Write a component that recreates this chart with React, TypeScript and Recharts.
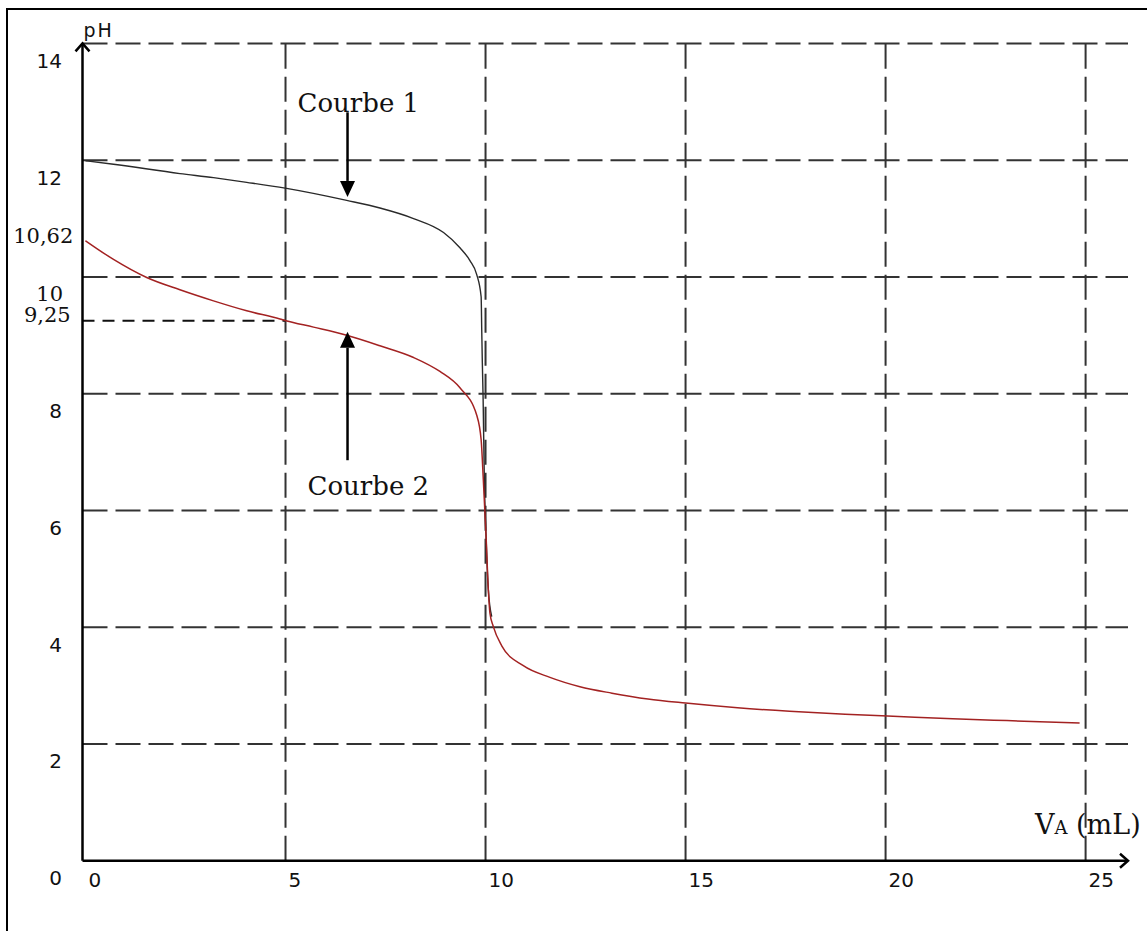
import React from 'react'
import { LineChart, Line, XAxis, YAxis, ReferenceLine } from 'recharts'

// volumes (mL) and pH
const volume1 = [0, 0.7, 2.36, 3.2, 4.03, 4.99, 6.53, 7.36, 8.2, 8.95, 9.36, 9.61, 9.78, 9.89, 9.905, 9.92, 9.94, 9.97, 10.01, 10.07, 10.155]
const ph1 = [11.99, 11.93, 11.77, 11.7, 11.62, 11.52, 11.31, 11.18, 11.0, 10.76, 10.5, 10.28, 10.04, 9.66, 9.09, 8.53, 7.89, 6.52, 5.61, 4.64, 4.18]

const volume2 = [0, 0.7, 1.53, 2.36, 3.2, 4.03, 4.86, 5.01, 5.7, 6.53, 7.36, 8.2, 8.86, 9.36, 9.78, 9.89, 9.945, 10.01, 10.07, 10.11, 10.195, 10.405, 10.945, 11.61, 12.36, 13.16, 14.06, 15.0, 16.3, 17.6, 18.99, 20.05, 21.68, 23.03, 24.85]
const ph2 = [10.62, 10.3, 9.99, 9.78, 9.59, 9.42, 9.28, 9.25, 9.14, 9.0, 8.82, 8.62, 8.38, 8.1, 7.63, 7.21, 6.52, 5.61, 4.64, 4.24, 4.01, 3.68, 3.34, 3.14, 2.98, 2.87, 2.77, 2.7, 2.62, 2.56, 2.51, 2.48, 2.43, 2.4, 2.36]

const xTicks = [0, 5, 10, 15, 20, 25]
const yTicks = [0, 2, 4, 6, 8, 9.25, 10, 10.62, 12, 14]
const xGrid = [5, 10, 15, 20, 25]
const yGrid = [2, 4, 6, 8, 10, 12, 14]

const PKA_PH = 9.25
const HALF_EQ = 5
const X_MIN = -0.075
const X_MAX = 26.06

const courbe1 = volume1.map((v, i) => ({ v, ph: ph1[i] }))
const courbe2 = volume2.map((v, i) => ({ v, ph: ph2[i] }))

const SERIF = '"DejaVu Serif", serif'
const SANS = '"DejaVu Sans", sans-serif'
const GRID = '#333'

function XTick({ x, y, payload }: any) {
  return (
    <text x={x + 3} y={y + 26.5} fontFamily={SANS} fontSize={20} fill="#111" textAnchor="start">
      {payload.value}
    </text>
  )
}

function YTick({ x, y, payload }: any) {
  const v = payload.value
  if (v === 10.62 || v === 9.25) {
    return (
      <text x={x - (v === 9.25 ? 11.8 : 9.2)} y={y + 1.8} fontFamily={SERIF} fontSize={21} fill="#111" textAnchor="end">
        {String(v).replace('.', ',')}
      </text>
    )
  }
  if (v === 10) {
    return (
      <text x={x - 19.5} y={y + 24} fontFamily={SERIF} fontSize={21} fill="#111" textAnchor="end">
        {v}
      </text>
    )
  }
  return (
    <text x={x - 20.5} y={y + 24.5} fontFamily={SANS} fontSize={20} fill="#111" textAnchor="end">
      {v}
    </text>
  )
}

function YAxisArrow({ x1, y1, x2, y2 }: any) {
  return (
    <g>
      <line x1={x1} y1={y1} x2={x2} y2={y2} stroke="#000" strokeWidth={2.5} />
      <polyline points={`${x2 - 7},${y2 + 8} ${x2},${y2} ${x2 + 7},${y2 + 8}`} fill="none" stroke="#000" strokeWidth={2.5} />
      <text x={x2 + 1} y={y2 - 6} fontFamily={SANS} fontSize={19} letterSpacing={2} fill="#111">pH</text>
    </g>
  )
}

function XAxisArrow({ x1, y1, x2, y2 }: any) {
  return (
    <g>
      <line x1={x1} y1={y1} x2={x2} y2={y2} stroke="#000" strokeWidth={2.5} />
      <polyline points={`${x2 - 8},${y2 - 7} ${x2},${y2} ${x2 - 8},${y2 + 7}`} fill="none" stroke="#000" strokeWidth={2.5} />
      <text x={x2 - 93} y={y2 - 27} fontFamily={SERIF} fontSize={27} fill="#111">
        V<tspan fontSize={18}>A</tspan> (mL)
      </text>
    </g>
  )
}

function makeArrow(label: string, dx: number, dy: number) {
  return ({ x1, y1, x2, y2 }: any) => {
    const dir = y2 > y1 ? 1 : -1
    const base = y2 - dir * 16
    return (
      <g>
        <line x1={x1} y1={y1} x2={x2} y2={base} stroke="#000" strokeWidth={2.5} />
        <polygon points={`${x2 - 7.5},${base} ${x2},${y2} ${x2 + 7.5},${base}`} fill="#000" />
        <text x={x1 + dx} y={y1 + dy} fontFamily={SERIF} fontSize={26} fill="#111">{label}</text>
      </g>
    )
  }
}

const Arrow1 = makeArrow('Courbe 1', -50, 0)
const Arrow2 = makeArrow('Courbe 2', -40, 35)

export default function App() {
  return (
    <div style={{ position: 'fixed', left: 0, top: 0, width: 1147, height: 931, overflow: 'hidden', background: '#fff' }}>
      <div style={{ position: 'absolute', left: 6, top: 8, width: 1200, height: 1000, borderLeft: '2px solid #000', borderTop: '2px solid #000' }} />
      <div style={{ position: 'absolute', left: 0, top: 0 }}>
        <LineChart width={1147} height={931} margin={{ top: 43.4, right: 19, bottom: 30.3, left: 0 }}>
          <XAxis
            dataKey="v"
            type="number"
            domain={[X_MIN, X_MAX]}
            ticks={xTicks}
            interval={0}
            allowDataOverflow
            axisLine={false}
            tickLine={false}
            tickSize={0}
            tickMargin={0}
            height={40}
            tick={<XTick />}
          />
          <YAxis
            type="number"
            domain={[0, 14]}
            ticks={yTicks}
            interval={0}
            allowDataOverflow
            axisLine={false}
            tickLine={false}
            tickSize={0}
            tickMargin={0}
            width={82.5}
            tick={<YTick />}
          />
          {yGrid.map((g) => (
            <ReferenceLine key={`h${g}`} y={g} stroke={GRID} strokeWidth={2} strokeDasharray="25 8" ifOverflow="visible" />
          ))}
          {xGrid.map((g) => (
            <ReferenceLine key={`v${g}`} x={g} stroke={GRID} strokeWidth={2} strokeDasharray="25 8" ifOverflow="visible" />
          ))}
          <ReferenceLine
            segment={[{ x: X_MIN, y: PKA_PH }, { x: HALF_EQ, y: PKA_PH }]}
            stroke="#111"
            strokeWidth={2}
            strokeDasharray="12 8"
            ifOverflow="visible"
          />
          <Line data={courbe1} dataKey="ph" type="monotone" stroke="#2a2a2a" strokeWidth={1.4} dot={false} isAnimationActive={false} />
          <Line data={courbe2} dataKey="ph" type="monotone" stroke="#a32222" strokeWidth={1.5} dot={false} isAnimationActive={false} />
          <ReferenceLine segment={[{ x: X_MIN, y: 0 }, { x: X_MIN, y: 14 }]} shape={<YAxisArrow />} ifOverflow="visible" />
          <ReferenceLine segment={[{ x: X_MIN, y: 0 }, { x: X_MAX, y: 0 }]} shape={<XAxisArrow />} ifOverflow="visible" />
          <ReferenceLine segment={[{ x: 6.55, y: 12.82 }, { x: 6.55, y: 11.37 }]} shape={<Arrow1 />} ifOverflow="visible" />
          <ReferenceLine segment={[{ x: 6.55, y: 6.86 }, { x: 6.55, y: 9.06 }]} shape={<Arrow2 />} ifOverflow="visible" />
        </LineChart>
      </div>
    </div>
  )
}
